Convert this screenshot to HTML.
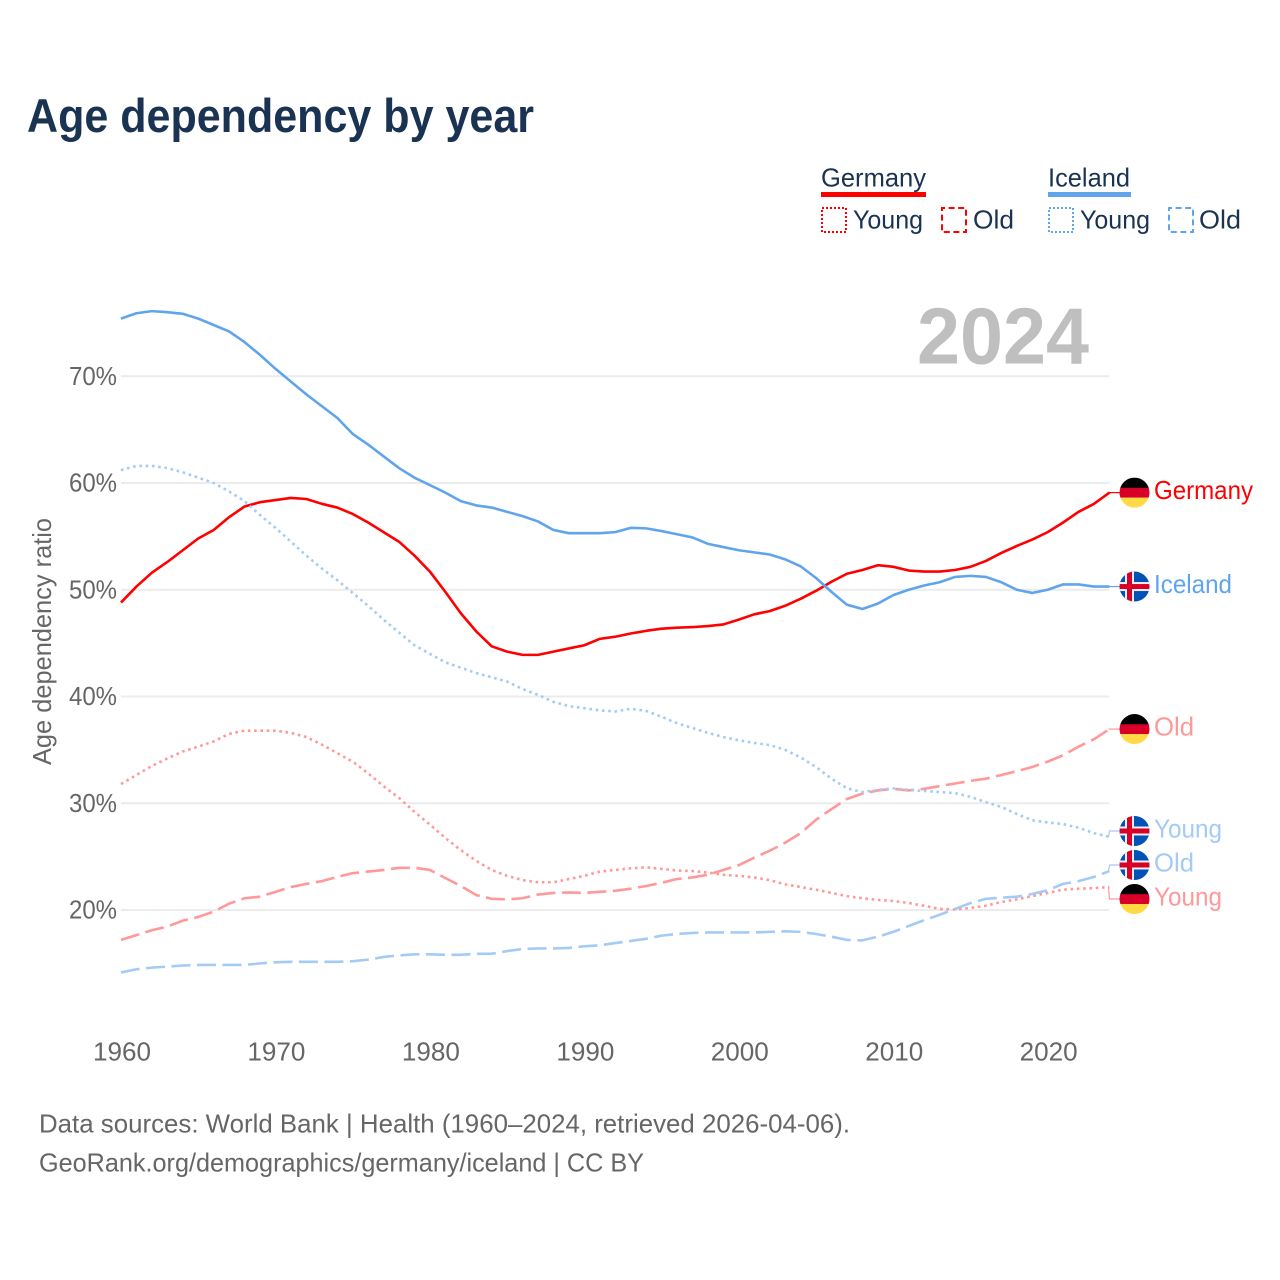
<!DOCTYPE html>
<html lang="en">
<head>
<meta charset="utf-8">
<title>Age dependency by year</title>
<style>
html,body{margin:0;padding:0;background:#fff}
svg{display:block;font-family:"Liberation Sans",Arial,sans-serif}
</style>
</head>
<body>
<svg id="chart" xmlns="http://www.w3.org/2000/svg" width="1280" height="1280" viewBox="0 0 1280 1280">
  <defs>
    <clipPath id="flag-clip"><circle cx="0" cy="0" r="15"/></clipPath>
  </defs>
  <rect x="0" y="0" width="1280" height="1280" fill="#fff"/>
  <text x="27" y="132" font-size="47" font-weight="700" fill="#1a3352" textLength="507" lengthAdjust="spacingAndGlyphs">Age dependency by year</text>

  <g font-size="26" fill="#1a3352">
    <text x="821" y="186.5" textLength="105" lengthAdjust="spacingAndGlyphs">Germany</text>
    <rect x="821" y="192" width="105" height="5" fill="#ff0000"/>
    <rect x="822" y="208" width="24" height="24" fill="none" stroke="#ff0000" stroke-width="2" stroke-dasharray="2 2"/>
    <text x="853" y="228.5" textLength="70" lengthAdjust="spacingAndGlyphs">Young</text>
    <rect x="942" y="208" width="24" height="24" fill="none" stroke="#ff0000" stroke-width="2" stroke-dasharray="6 3.6" stroke-dashoffset="3"/>
    <text x="973" y="228.5" textLength="41" lengthAdjust="spacingAndGlyphs">Old</text>
    <text x="1048" y="186.5" textLength="82" lengthAdjust="spacingAndGlyphs">Iceland</text>
    <rect x="1048" y="192" width="83" height="5" fill="#60a5ec"/>
    <rect x="1049" y="208" width="24" height="24" fill="none" stroke="#60a5ec" stroke-width="2" stroke-dasharray="2 2"/>
    <text x="1080" y="228.5" textLength="70" lengthAdjust="spacingAndGlyphs">Young</text>
    <rect x="1169" y="208" width="24" height="24" fill="none" stroke="#60a5ec" stroke-width="2" stroke-dasharray="6 3.6" stroke-dashoffset="3"/>
    <text x="1199" y="228.5" textLength="42" lengthAdjust="spacingAndGlyphs">Old</text>
  </g>

  <g id="grid"></g>
  <text x="917" y="363.5" font-size="80" font-weight="700" fill="#bfbfbf" textLength="172" lengthAdjust="spacingAndGlyphs">2024</text>
  <g id="yticks" font-size="26" fill="#666"></g>
  <g id="xticks" font-size="26" fill="#666"></g>
  <text transform="translate(51 641.5) rotate(-90)" text-anchor="middle" font-size="26" fill="#666" textLength="247" lengthAdjust="spacingAndGlyphs">Age dependency ratio</text>
  <g id="series"></g>
  <g id="labels"></g>

  <g font-size="26" fill="#666">
    <text x="39" y="1132.5" textLength="811" lengthAdjust="spacingAndGlyphs">Data sources: World Bank | Health (1960–2024, retrieved 2026-04-06).</text>
    <text x="39" y="1171.5" textLength="605" lengthAdjust="spacingAndGlyphs">GeoRank.org/demographics/germany/iceland | CC BY</text>
  </g>
</svg>
<script>
const years = [1960,1961,1962,1963,1964,1965,1966,1967,1968,1969,1970,1971,1972,1973,1974,1975,1976,1977,1978,1979,1980,1981,1982,1983,1984,1985,1986,1987,1988,1989,1990,1991,1992,1993,1994,1995,1996,1997,1998,1999,2000,2001,2002,2003,2004,2005,2006,2007,2008,2009,2010,2011,2012,2013,2014,2015,2016,2017,2018,2019,2020,2021,2022,2023,2024];
const xTickYears = [1960,1970,1980,1990,2000,2010,2020];
const yTickValues = [20,30,40,50,60,70];
const germanyTotal = [48.8,50.3,51.6,52.6,53.7,54.8,55.6,56.8,57.8,58.2,58.4,58.6,58.5,58.05,57.7,57.1,56.3,55.4,54.5,53.2,51.7,49.8,47.8,46.1,44.7,44.2,43.9,43.9,44.2,44.5,44.8,45.4,45.6,45.9,46.15,46.35,46.45,46.5,46.6,46.75,47.2,47.7,48.0,48.5,49.15,49.9,50.75,51.5,51.85,52.3,52.15,51.8,51.7,51.7,51.85,52.15,52.7,53.45,54.1,54.7,55.4,56.3,57.3,58.05,59.1];
const germanyYoung = [31.8,32.65,33.5,34.2,34.85,35.3,35.8,36.5,36.8,36.8,36.8,36.6,36.2,35.5,34.7,33.9,32.8,31.6,30.5,29.2,28.0,26.75,25.6,24.6,23.75,23.2,22.8,22.6,22.6,22.9,23.2,23.6,23.75,23.9,24.0,23.85,23.7,23.65,23.5,23.3,23.2,23.05,22.8,22.4,22.15,21.9,21.6,21.3,21.1,20.95,20.85,20.65,20.4,20.1,20.05,20.2,20.4,20.75,21.0,21.3,21.6,21.9,22.0,22.05,22.15];
const germanyOld = [17.2,17.65,18.1,18.45,19.0,19.35,19.85,20.6,21.1,21.25,21.7,22.15,22.45,22.7,23.1,23.45,23.6,23.75,23.95,23.95,23.75,23.0,22.25,21.4,21.05,21.0,21.1,21.45,21.6,21.65,21.6,21.7,21.8,22.0,22.25,22.55,22.9,23.05,23.3,23.75,24.2,24.9,25.55,26.3,27.2,28.45,29.45,30.4,30.9,31.2,31.35,31.2,31.35,31.6,31.85,32.1,32.3,32.65,33.0,33.4,33.9,34.5,35.3,36.0,36.95];
const icelandTotal = [75.4,75.9,76.1,76.0,75.85,75.4,74.8,74.2,73.2,72.0,70.7,69.5,68.3,67.2,66.1,64.6,63.6,62.5,61.4,60.5,59.8,59.1,58.3,57.9,57.7,57.3,56.9,56.4,55.6,55.3,55.3,55.3,55.4,55.8,55.75,55.5,55.2,54.9,54.3,54.0,53.7,53.5,53.3,52.85,52.2,51.1,49.8,48.6,48.2,48.7,49.5,50.0,50.4,50.7,51.2,51.3,51.2,50.7,50.0,49.7,50.0,50.5,50.5,50.3,50.3];
const icelandYoung = [61.2,61.6,61.6,61.4,61.0,60.5,60.0,59.2,58.3,57.0,55.8,54.5,53.2,52.0,50.9,49.7,48.5,47.2,46.0,44.8,44.0,43.2,42.7,42.2,41.8,41.4,40.7,40.15,39.5,39.1,38.9,38.7,38.6,38.85,38.65,38.1,37.5,37.05,36.6,36.2,35.9,35.65,35.45,35.0,34.3,33.4,32.3,31.4,31.05,31.25,31.4,31.25,31.15,31.05,30.95,30.6,30.1,29.65,29.0,28.4,28.2,28.05,27.7,27.2,26.85];
const icelandOld = [14.15,14.45,14.6,14.7,14.8,14.85,14.85,14.85,14.85,15.0,15.1,15.15,15.15,15.15,15.15,15.2,15.35,15.6,15.75,15.85,15.85,15.8,15.8,15.9,15.9,16.15,16.35,16.4,16.4,16.45,16.6,16.7,16.9,17.1,17.3,17.6,17.75,17.85,17.9,17.9,17.9,17.9,17.95,18.0,17.95,17.75,17.5,17.2,17.15,17.5,17.95,18.5,19.05,19.55,20.1,20.65,21.05,21.15,21.25,21.5,21.85,22.45,22.7,23.1,23.65];

const SVG_NS = 'http://www.w3.org/2000/svg';
const xScale = function (year) { return 121 + (year - 1960) * 15.445; };
const yScale = function (value) { return 910 - (value - 20) * 10.675; };

const seriesList = [
  { key: 'germany-total', label: 'Germany', flag: 'germany', values: germanyTotal, color: '#ff0000', width: 2.6, dash: '', labelWidth: 99 },
  { key: 'germany-young', label: 'Young', flag: 'germany', values: germanyYoung, color: '#ff9999', width: 2.6, dash: '2.6 3.7', labelWidth: 68 },
  { key: 'germany-old', label: 'Old', flag: 'germany', values: germanyOld, color: '#ff9999', width: 2.6, dash: '19 6.5', labelWidth: 40 },
  { key: 'iceland-total', label: 'Iceland', flag: 'iceland', values: icelandTotal, color: '#60a5ec', width: 2.6, dash: '', labelWidth: 78 },
  { key: 'iceland-young', label: 'Young', flag: 'iceland', values: icelandYoung, color: '#a3cbf5', width: 2.6, dash: '2.6 3.7', labelWidth: 68 },
  { key: 'iceland-old', label: 'Old', flag: 'iceland', values: icelandOld, color: '#a3cbf5', width: 2.6, dash: '19 6.5', labelWidth: 40 }
];

function make(tag, parent, attrs) {
  const node = document.createElementNS(SVG_NS, tag);
  Object.keys(attrs).forEach(function (k) { node.setAttribute(k, attrs[k]); });
  parent.appendChild(node);
  return node;
}

const gridGroup = document.getElementById('grid');
const yTickGroup = document.getElementById('yticks');
const xTickGroup = document.getElementById('xticks');
const seriesGroup = document.getElementById('series');
const labelGroup = document.getElementById('labels');

yTickValues.forEach(function (v) {
  const line = make('line', gridGroup, { x1: 121, x2: 1109, y1: yScale(v), y2: yScale(v), stroke: '#ececec', 'stroke-width': 2 });
  
  
  const t = make('text', yTickGroup, { x: 69, y: yScale(v) + 8.5, textLength: 48, lengthAdjust: 'spacingAndGlyphs' });
  t.textContent = v + '%';
  
  
});

xTickYears.forEach(function (y) {
  const t = make('text', xTickGroup, { x: xScale(y) + 1, y: 1060.5, 'text-anchor': 'middle', textLength: 58, lengthAdjust: 'spacingAndGlyphs' });
  t.textContent = String(y);
  
  
});

seriesList.forEach(function (s) {
  const pts = s.values.map(function (v, i) { return xScale(years[i]).toFixed(2) + ',' + yScale(v).toFixed(2); }).join(' ');
  const attrs = { points: pts, fill: 'none', stroke: s.color, 'stroke-width': s.width, 'stroke-linejoin': 'round' };
  if (s.dash) attrs['stroke-dasharray'] = s.dash;
  const line = make('polyline', seriesGroup, attrs);
  
  
});

/* End labels: anchored at the last value, colliding ones are spread around their group centre. */
const MIN_GAP = 34;
const ends = seriesList.map(function (s) {
  return { s: s, lastY: yScale(s.values[s.values.length - 1]) };
}).sort(function (a, b) { return a.lastY - b.lastY; });

let groups = ends.map(function (e) { return { items: [e], center: e.lastY }; });
let merged = true;
while (merged) {
  merged = false;
  for (let i = 0; i < groups.length - 1; i++) {
    const a = groups[i], b = groups[i + 1];
    const aBottom = a.center + (a.items.length - 1) * MIN_GAP / 2;
    const bTop = b.center - (b.items.length - 1) * MIN_GAP / 2;
    if (bTop - aBottom < MIN_GAP) {
      const items = a.items.concat(b.items);
      const center = items.reduce(function (sum, e) { return sum + e.lastY; }, 0) / items.length;
      groups.splice(i, 2, { items: items, center: center });
      merged = true;
      break;
    }
  }
}
groups.forEach(function (g) {
  g.items.forEach(function (e, i) { e.labelY = g.center + (i - (g.items.length - 1) / 2) * MIN_GAP; });
});

function drawFlag(parent, kind, cy) {
  const g = make('g', parent, { transform: 'translate(1134.5 ' + cy + ')', 'clip-path': 'url(#flag-clip)' });
  if (kind === 'germany') {
    make('rect', g, { x: -15, y: -15, width: 30, height: 10.5, fill: '#000' });
    make('rect', g, { x: -15, y: -4.8, width: 30, height: 10, fill: '#d80027' });
    make('rect', g, { x: -15, y: 5, width: 30, height: 10, fill: '#ffda44' });
  } else {
    make('rect', g, { x: -15, y: -15, width: 30, height: 30, fill: '#0052b4' });
    make('rect', g, { x: -9.5, y: -15, width: 9, height: 30, fill: '#f0f0f0' });
    make('rect', g, { x: -15, y: -4.5, width: 30, height: 9, fill: '#f0f0f0' });
    make('rect', g, { x: -7.5, y: -15, width: 5, height: 30, fill: '#d80027' });
    make('rect', g, { x: -15, y: -2.5, width: 30, height: 5, fill: '#d80027' });
  }
  return g;
}

ends.forEach(function (e) {
  const s = e.s;
  const lastX = xScale(years[years.length - 1]);
  const conn = make('path', labelGroup, { d: 'M' + (lastX - 1) + ' ' + e.lastY + ' L' + lastX + ' ' + e.labelY + ' L1120 ' + e.labelY, fill: 'none', stroke: s.color, 'stroke-width': 1.2 });
  
  
  const flag = drawFlag(labelGroup, s.flag, e.labelY);
  
  
  const t = make('text', labelGroup, { x: 1154, y: e.labelY + 6.5, 'font-size': 26, fill: s.color, textLength: s.labelWidth, lengthAdjust: 'spacingAndGlyphs' });
  t.textContent = s.label;
  
  
});
</script>
</body>
</html>
